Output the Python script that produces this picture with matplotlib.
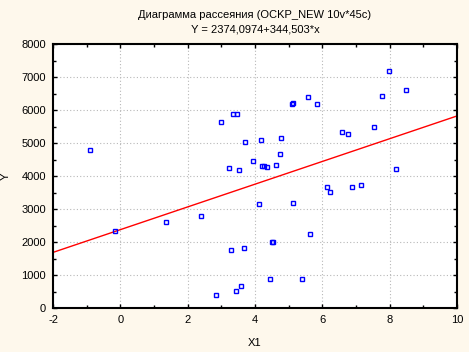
import matplotlib
matplotlib.use("Agg")
from matplotlib import pyplot as plt
from matplotlib.ticker import MultipleLocator
import numpy as np

plt.rcParams['font.family'] = ['Liberation Sans', 'DejaVu Sans']
plt.rcParams['axes.unicode_minus'] = False

# scatter data
x1 = [-0.90, -0.17, 1.37, 2.40, 2.99, 3.34, 3.46, 3.69, 3.22, 3.52,
      3.94, 4.18, 4.77, 4.74, 4.22, 4.27, 4.36, 4.63, 5.09, 5.14,
      5.57, 5.83, 6.58, 6.76, 7.54, 7.76, 7.98, 8.48, 8.18, 6.14,
      6.23, 6.88, 7.15, 4.13, 5.14, 5.64, 4.50, 4.54, 3.28, 3.68,
      4.46, 5.41, 2.84, 3.44, 3.58]
y = [4790, 2340, 2600, 2775, 5636, 5885, 5885, 5035, 4240, 4180,
     4465, 5100, 5160, 4667, 4312, 4312, 4273, 4343, 6190, 6220,
     6404, 6190, 5342, 5282, 5494, 6433, 7182, 6615, 4221, 3657,
     3525, 3676, 3727, 3161, 3191, 2233, 1990, 1990, 1748, 1808,
     870, 870, 385, 510, 658]

intercept = 2374.0974
slope = 344.503

bg = '#fef8ec'
fig = plt.figure(figsize=(4.69, 3.52), dpi=100, facecolor=bg)
ax = fig.add_axes([53/469, 44/352, 404/469, 264/352])
ax.set_facecolor('white')

ax.set_xlim(-2, 10)
ax.set_ylim(0, 8000)

xl = np.array([-2, 10])
ax.plot(xl, intercept + slope * xl, color='#ff0000', lw=1.0, zorder=2)
ax.plot(x1, y, 's', ms=3.5, mfc='none', mec='#0000ff', mew=1.0, zorder=3)

ax.xaxis.set_major_locator(MultipleLocator(2))
ax.xaxis.set_minor_locator(MultipleLocator(1))
ax.yaxis.set_major_locator(MultipleLocator(1000))
ax.yaxis.set_minor_locator(MultipleLocator(500))
ax.grid(True, which='major', color='#b8b8b8', ls=(0, (1, 2)), lw=0.8)
ax.tick_params(which='both', direction='in', top=True, right=True,
               labelsize=8, colors='black', width=1)
ax.tick_params(which='major', length=3, pad=5)
ax.tick_params(which='minor', length=2)
for s in ax.spines.values():
    s.set_linewidth(1.5)
    s.set_color('black')

ax.set_xlabel('X1', fontsize=8)
ax.set_ylabel('Y', fontsize=8)
ax.xaxis.set_label_coords(0.5, -0.115)
ax.yaxis.set_label_coords(-0.105, 0.5)

fig.text(0.5 * (53 + 457) / 469, 1 - 15/352, 'Диаграмма рассеяния (OCKP_NEW 10v*45c)',
         ha='center', va='center', fontsize=8)
fig.text(0.5 * (53 + 457) / 469, 1 - 30/352, 'Y = 2374,0974+344,503*x',
         ha='center', va='center', fontsize=8)

fig.savefig('out.png', dpi=100, facecolor=bg)
